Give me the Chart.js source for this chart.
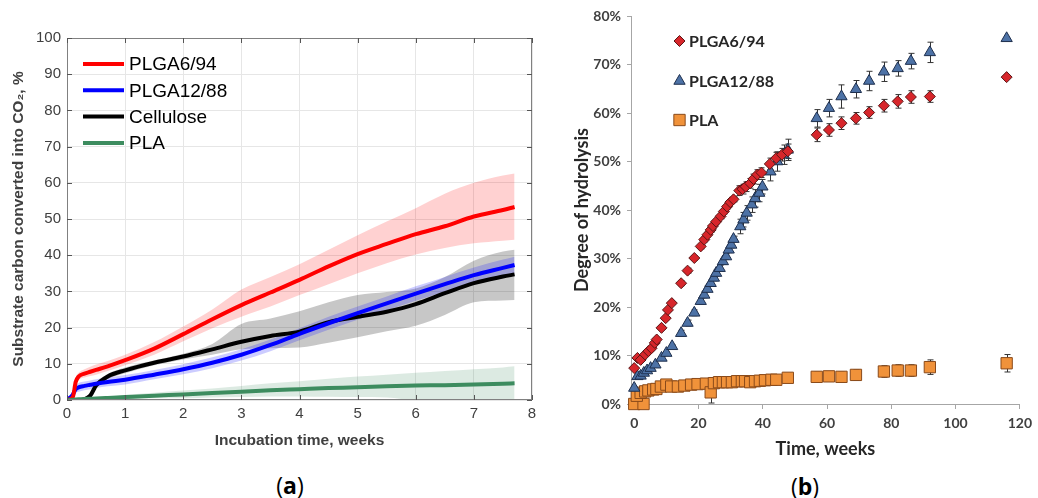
<!DOCTYPE html>
<html>
<head>
<meta charset="utf-8">
<script src="https://cdn.jsdelivr.net/npm/chart.js@4.4.0/dist/chart.umd.min.js"></script>
<style>
	body { margin: 0; background: #fff; width: 1038px; height: 498px; overflow: hidden; position: relative; }
	#boxA { position: absolute; left: 0; top: 0; width: 545px; height: 455px; }
	#boxB { position: absolute; left: 560px; top: 0; width: 478px; height: 465px; }
	.cap { position: absolute; font-family: "Open Sans", sans-serif; font-size: 23px; color: #000; transform: translate(-50%, -50%); }
	.cap b { font-weight: 700; }
</style>
</head>
<body>
<div id="boxA"><canvas id="chartA" width="545" height="455"></canvas></div>
<div id="boxB"><canvas id="chartB" width="478" height="465"></canvas></div>
<div class="cap" style="left:290px;top:485px">(<b>a</b>)</div>
<div class="cap" style="left:805px;top:486px">(<b>b</b>)</div>
<script>
// ---- (a) CO2 evolution ----
var weeks = [0, 0.1, 0.15, 0.2, 0.3, 0.4, 0.5, 0.7, 1, 1.5, 2, 2.5, 3, 3.5, 4, 4.5, 5, 5.5, 6, 6.5, 7, 7.5, 7.7];

var plga6Mean = [0, 0.8, 5, 6.5, 7.3, 7.8, 8.3, 9.3, 11, 14.2, 18.2, 22.3, 26.2, 29.7, 33.2, 36.9, 40.3, 43.1, 45.8, 48, 50.7, 52.5, 53.3];
var plga6Up = [0, 1, 6, 7.5, 8.5, 9.2, 9.8, 10.8, 12.5, 16, 20.3, 25, 30.5, 34, 37.5, 41.5, 45.5, 49.3, 53, 57, 60, 62, 62.6];
var plga6Lo = [0, 0.6, 4, 5.5, 6.2, 6.6, 7, 8, 9.6, 12.5, 16.2, 19.8, 23, 25.8, 29, 32, 35, 37.8, 40.2, 42, 43.3, 44, 44.3];

var plga12Mean = [0, 1.5, 3, 3.5, 3.9, 4.2, 4.5, 5, 5.6, 7, 8.5, 10.3, 12.5, 15.2, 18.3, 21.2, 24, 26.7, 29.4, 32, 34.5, 36.5, 37.3];
var plga12Up = [0, 2.2, 4, 4.7, 5.1, 5.4, 5.7, 6.2, 6.9, 8.3, 9.9, 11.8, 14, 16.7, 19.8, 23, 25.8, 28.6, 31.4, 34, 36.6, 38.8, 39.6];
var plga12Lo = [0, 0.8, 2, 2.3, 2.7, 3, 3.3, 3.8, 4.3, 5.7, 7.1, 8.8, 10.9, 13.5, 16.5, 19.4, 22.2, 24.8, 27.4, 30, 32.4, 34.2, 35];

var celluloseMean = [0, 0, 0, 0, 0.2, 1.2, 4, 6.5, 8.2, 10.3, 12, 14, 16.1, 17.7, 18.9, 21.5, 23, 24.4, 26.5, 29.5, 32.3, 34.1, 34.7];
var celluloseUp = [0, 0, 0, 0, 0.4, 1.6, 4.6, 7.2, 9, 11, 12.8, 15.5, 21, 22.5, 24.5, 27, 29, 29.8, 30.8, 34, 38.5, 41, 41.5];
var celluloseLo = [0, 0, 0, 0, 0, 0.8, 3.4, 5.8, 7.4, 9.6, 11.2, 12.5, 14, 14.3, 14.5, 15.8, 17.3, 19, 20.5, 23.5, 27, 27.5, 27.6];

var plaMean = [0, 0.1, 0.15, 0.2, 0.3, 0.35, 0.4, 0.55, 0.8, 1.2, 1.5, 1.9, 2.3, 2.7, 3, 3.3, 3.5, 3.8, 4, 4.1, 4.3, 4.5, 4.6];
var plaUp = [0, 0.2, 0.3, 0.4, 0.6, 0.7, 0.8, 1, 1.4, 2, 2.6, 3.2, 3.9, 4.6, 5.2, 5.9, 6.5, 7, 7.5, 8, 8.5, 9, 9.3];
var plaLo = [0, 0, 0, 0, 0, 0, 0, 0.1, 0.3, 0.5, 0.5, 0.7, 0.8, 1, 1, 0.9, 0.8, 0.7, 0, 0, 0, 0, 0];

var xTicksA = [0, 1, 2, 3, 4, 5, 6, 7, 8];
var yTicksA = [0, 10, 20, 30, 40, 50, 60, 70, 80, 90, 100];

// ---- (b) hydrolysis ----
var plga6W = [0, 1, 2, 3.4, 4.4, 5.4, 6.4, 7, 8.5, 9.8, 10.5, 11.7, 14.6, 16.6, 18.7, 20.7, 21.8, 22.8, 23.8, 24.5, 25.5, 26.9, 27.9, 28.9, 29.9, 30.9, 32.7, 33.7, 34.7, 36.1, 37.1, 38.3, 39.6, 42.2, 44.2, 46, 47.8, 56.8, 60.6, 64.5, 69, 73.1, 77.7, 82, 86.1, 92, 115.9];
var plga6V = [7.4, 9.5, 9.1, 10.2, 10.9, 11.5, 12.6, 13.3, 15.7, 17.7, 19.4, 20.8, 24.9, 27.5, 30.1, 32.5, 33.9, 34.9, 35.9, 36.7, 37.6, 38.7, 39.7, 40.7, 41.6, 42.2, 44, 44.3, 44.8, 45.5, 46.4, 47.3, 47.7, 49.5, 50.7, 51.4, 52.1, 55.5, 56.5, 57.9, 58.9, 60.1, 61.5, 62.4, 63.3, 63.4, 67.4];
var plga6Err = [0.3, 0.3, 0.3, 0.3, 0.3, 0.3, 0.3, 0.3, 0.3, 0.3, 0.3, 0.3, 0.5, 0.5, 0.5, 0.5, 0.5, 0.5, 0.5, 0.5, 0.5, 0.5, 0.5, 0.5, 0.5, 0.5, 1, 1, 1, 1, 1, 1, 1, 1.2, 1.2, 1.3, 1.5, 1.4, 1.3, 1.3, 1.2, 1.2, 1.3, 1.4, 1.3, 1.2, 0];

var plga12W = [0, 1, 2, 3, 4, 5.1, 6.6, 8.5, 10, 11.8, 14.6, 16.6, 18.7, 20.7, 21.8, 22.8, 23.8, 24.8, 25.5, 26.6, 27.6, 28.6, 29.4, 30.2, 30.9, 33, 34, 35, 36.6, 37.6, 38.9, 39.9, 42.4, 44.5, 46.5, 47.8, 56.8, 60.6, 64.5, 69, 73.1, 77.7, 82, 86.1, 92, 115.9];
var plga12V = [3.3, 5.7, 5.8, 6.4, 6.9, 7.4, 8.1, 9.5, 10.5, 11.9, 14.6, 16.7, 18.8, 21.2, 22.5, 23.7, 24.9, 26, 27, 28, 29.4, 30.4, 31.8, 32.8, 34, 36.6, 38, 39.4, 41.1, 42.4, 43.5, 44.8, 47.9, 50, 51.4, 52.4, 58.9, 61, 63.4, 64.9, 66.6, 68.5, 69.2, 70.7, 72.5, 75.4];
var plga12Err = [0.3, 0.3, 0.3, 0.3, 0.3, 0.3, 0.3, 0.3, 0.3, 0.3, 0.6, 0.6, 0.6, 0.6, 0.6, 0.6, 0.6, 0.6, 0.6, 0.6, 0.6, 0.6, 0.6, 0.6, 0.6, 1.5, 1.5, 1.5, 1.6, 1.8, 1.8, 1.5, 1.9, 2, 2, 2.2, 1.8, 1.8, 2.4, 1.8, 2, 2, 1.6, 1.6, 2.1, 0];

var plaW = [0, 2.9, 0.8, 2, 3.4, 4.4, 5.9, 6.9, 8.3, 10, 11.5, 13.6, 15.6, 17.7, 19.7, 22.3, 23.8, 24.8, 26.4, 27.6, 28.9, 30.4, 32, 33.5, 34.5, 36.1, 37.6, 39.1, 40.7, 42.7, 44.2, 47.8, 56.8, 60.6, 64.5, 69, 77.7, 82, 86.1, 92, 115.9];
var plaV = [0, 0, 1.7, 2.3, 2.6, 2.8, 3, 3.1, 3.6, 4, 3.6, 3.6, 3.8, 4, 4.1, 4.2, 2.4, 4.3, 4.5, 4.5, 4.5, 4.5, 4.7, 4.7, 4.7, 4.5, 4.7, 4.8, 4.9, 5, 5, 5.4, 5.6, 5.7, 5.6, 6, 6.7, 6.9, 6.9, 7.6, 8.4];
var plaErr = [0.3, 0.3, 0.3, 0.3, 0.3, 0.3, 0.3, 0.3, 0.3, 0.3, 0.3, 0.3, 0.3, 0.3, 0.3, 0.3, 2.2, 0.4, 0.4, 0.4, 0.4, 0.4, 0.4, 0.4, 0.4, 0.4, 0.4, 0.4, 0.4, 0.4, 0.4, 0.4, 1, 1, 1, 1.1, 1.2, 1.2, 1.2, 1.5, 1.8];

var xTicksB = [0, 20, 40, 60, 80, 100, 120];
var yTicksB = [0, 10, 20, 30, 40, 50, 60, 70, 80];

function pts(xs, ys) {
	return xs.map(function(x, i) { return { x: x, y: ys[i] }; });
}

function bandSets(lo, up, color) {
	return [
		{ data: pts(weeks, lo), borderWidth: 0, pointRadius: 0, fill: false, order: 5, cubicInterpolationMode: 'monotone' },
		{ data: pts(weeks, up), borderWidth: 0, pointRadius: 0, fill: '-1', backgroundColor: color, order: 5, cubicInterpolationMode: 'monotone' }
	];
}

function lineSet(label, ys, color, ord) {
	return { label: label, data: pts(weeks, ys), borderColor: color, backgroundColor: color, borderWidth: 4,
		pointRadius: 0, fill: false, order: ord, cubicInterpolationMode: 'monotone' };
}

// box + inward tick marks (matlab style)
var boxPlugin = {
	id: 'boxA',
	afterDraw: function(chart) {
		var ctx = chart.ctx, a = chart.chartArea;
		var xs = chart.scales.x, ys = chart.scales.y;
		ctx.save();
		ctx.strokeStyle = '#808080';
		ctx.lineWidth = 1;
		ctx.strokeRect(a.left + 0.5, a.top + 0.5, a.right - a.left - 1, a.bottom - a.top - 1);
		ctx.strokeStyle = '#555';
		ctx.beginPath();
		xTicksA.forEach(function(v) {
			var px = Math.round(xs.getPixelForValue(v)) + 0.5;
			ctx.moveTo(px, a.bottom); ctx.lineTo(px, a.bottom - 5);
			ctx.moveTo(px, a.top); ctx.lineTo(px, a.top + 5);
		});
		yTicksA.forEach(function(v) {
			var py = Math.round(ys.getPixelForValue(v)) + 0.5;
			ctx.moveTo(a.left, py); ctx.lineTo(a.left + 5, py);
			ctx.moveTo(a.right, py); ctx.lineTo(a.right - 5, py);
		});
		ctx.stroke();

		// legend
		var items = chart.data.datasets.filter(function(d) { return d.label; });
		ctx.font = '19px "Liberation Sans", Arial, sans-serif';
		ctx.textBaseline = 'middle';
		items.forEach(function(d, i) {
			var y = 64 + i * 26.3;
			ctx.strokeStyle = d.borderColor;
			ctx.lineWidth = 4;
			ctx.beginPath(); ctx.moveTo(83, y); ctx.lineTo(124, y); ctx.stroke();
			ctx.fillStyle = '#000';
			ctx.fillText(d.label, 129, y + 1);
		});
		ctx.restore();
	}
};

var fontA = '"Liberation Sans", Arial, sans-serif';

new Chart(document.getElementById('chartA'), {
	type: 'line',
	data: {
		datasets: [
			lineSet('PLGA6/94', plga6Mean, '#ff0000', 1),
			lineSet('PLGA12/88', plga12Mean, '#0000ff', 2),
			lineSet('Cellulose', celluloseMean, '#000000', 3),
			lineSet('PLA', plaMean, '#3d8c5f', 0)
		].concat(
			bandSets(plga6Lo, plga6Up, 'rgba(255,0,0,0.18)'),
			bandSets(plga12Lo, plga12Up, 'rgba(0,0,255,0.2)'),
			bandSets(celluloseLo, celluloseUp, 'rgba(0,0,0,0.22)'),
			bandSets(plaLo, plaUp, 'rgba(61,140,95,0.18)')
		)
	},
	options: {
		responsive: false,
		animation: false,
		layout: { padding: { top: 38, right: 13, bottom: 0, left: 0 } },
		plugins: { legend: { display: false }, tooltip: { enabled: false } },
		scales: {
			x: {
				type: 'linear', min: 0, max: 8,
				afterBuildTicks: function(s) { s.ticks = xTicksA.map(function(v) { return { value: v }; }); },
				afterFit: function(s) { s.height = 55; },
				grid: { color: '#e6e6e6', drawTicks: false },
				border: { display: false },
				ticks: { padding: 5, color: '#404040', font: { family: fontA, size: 15 } },
				title: { display: true, text: 'Incubation time, weeks', color: '#404040', padding: { top: 0, bottom: 5 },
					font: { family: fontA, size: 15.5, weight: 'bold' } }
			},
			y: {
				min: 0, max: 100,
				afterBuildTicks: function(s) { s.ticks = yTicksA.map(function(v) { return { value: v }; }); },
				afterFit: function(s) { s.width = 67; },
				grid: { color: '#e6e6e6', drawTicks: false },
				border: { display: false },
				ticks: { padding: 6, color: '#404040', font: { family: fontA, size: 15 } },
				title: { display: true, text: 'Substrate carbon converted into CO\u2082, %', color: '#404040', padding: { top: 9, bottom: 0 },
					font: { family: fontA, size: 15.5, weight: 'bold' } }
			}
		}
	},
	plugins: [boxPlugin]
});

// ---- (b) ----
var errPlugin = {
	id: 'errB',
	beforeDatasetsDraw: function(chart) {
		var ctx = chart.ctx, xs = chart.scales.x, ys = chart.scales.y;
		ctx.save();
		ctx.strokeStyle = '#333';
		ctx.lineWidth = 1;
		chart.data.datasets.forEach(function(d) {
			ctx.beginPath();
			d.data.forEach(function(p, i) {
				var e = d.err[i];
				if (!e) return;
				var px = Math.round(xs.getPixelForValue(p.x)) + 0.5;
				var y1 = ys.getPixelForValue(p.y + e), y2 = ys.getPixelForValue(p.y - e);
				ctx.moveTo(px, y1); ctx.lineTo(px, y2);
				ctx.moveTo(px - 3, y1); ctx.lineTo(px + 3, y1);
				ctx.moveTo(px - 3, y2); ctx.lineTo(px + 3, y2);
			});
			ctx.stroke();
		});
		ctx.restore();
	},
	afterDraw: function(chart) {
		var ctx = chart.ctx;
		var pos = [41, 81, 120];
		ctx.save();
		ctx.font = 'bold 16px Lato, "Open Sans", sans-serif';
		ctx.textBaseline = 'middle';
		chart.data.datasets.forEach(function(d, i) {
			ctx.fillStyle = d.backgroundColor;
			ctx.strokeStyle = d.borderColor;
			ctx.lineWidth = 1;
			Chart.helpers.drawPoint(ctx, { pointStyle: d.pointStyle, radius: d.pointRadius, rotation: 0, borderWidth: 1 }, 119.5, pos[i]);
			ctx.fillStyle = '#262626';
			ctx.fillText(d.label, 129, pos[i] + 1);
		});
		ctx.restore();
	}
};

var fontB = 'Lato, "Open Sans", sans-serif';

new Chart(document.getElementById('chartB'), {
	type: 'scatter',
	data: {
		datasets: [
			{ label: 'PLGA6/94', data: pts(plga6W, plga6V), err: plga6Err, pointStyle: 'rectRot', pointRadius: 5.5,
				backgroundColor: '#d7262b', borderColor: '#5a1515', borderWidth: 1, clip: false },
			{ label: 'PLGA12/88', data: pts(plga12W, plga12V), err: plga12Err, pointStyle: 'triangle', pointRadius: 6.5,
				backgroundColor: '#4d72a6', borderColor: '#1e2f4d', borderWidth: 1, clip: false },
			{ label: 'PLA', data: pts(plaW, plaV), err: plaErr, pointStyle: 'rect', pointRadius: 8,
				backgroundColor: '#f0923a', borderColor: '#8a4a1a', borderWidth: 1, clip: false }
		]
	},
	options: {
		responsive: false,
		animation: false,
		layout: { padding: { top: 16, right: 12, bottom: 0, left: 0 } },
		plugins: { legend: { display: false }, tooltip: { enabled: false } },
		scales: {
			x: {
				type: 'linear', min: -1, max: 120,
				afterBuildTicks: function(s) { s.ticks = xTicksB.map(function(v) { return { value: v }; }); },
				afterFit: function(s) { s.height = 61; },
				grid: { drawOnChartArea: false, drawTicks: true, tickLength: 5, color: '#a6a6a6' },
				border: { color: '#a6a6a6' },
				ticks: { padding: 6, color: '#404040', font: { family: fontB, size: 14, weight: 'bold' } },
				title: { display: true, text: 'Time, weeks', color: '#262626', padding: { top: 0, bottom: 5 },
					font: { family: fontB, size: 18, weight: 'bold' } }
			},
			y: {
				min: 0, max: 80,
				afterBuildTicks: function(s) { s.ticks = yTicksB.map(function(v) { return { value: v }; }); },
				afterFit: function(s) { s.width = 71; },
				grid: { drawOnChartArea: false, drawTicks: true, tickLength: 4, color: '#a6a6a6' },
				border: { color: '#a6a6a6' },
				ticks: { padding: 6, color: '#404040', font: { family: fontB, size: 14, weight: 'bold' },
					callback: function(v) { return v + '%'; } },
				title: { display: true, text: 'Degree of hydrolysis', color: '#262626', padding: { top: 11, bottom: 0 },
					font: { family: fontB, size: 18, weight: 'bold' } }
			}
		}
	},
	plugins: [errPlugin]
});
</script>
</body>
</html>
